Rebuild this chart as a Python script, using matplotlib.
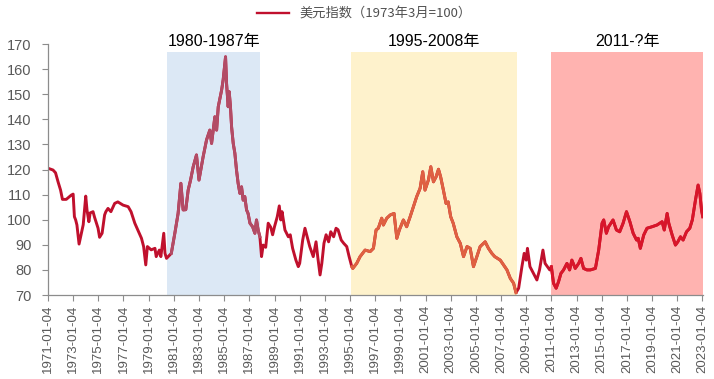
import numpy as np
import matplotlib
matplotlib.use('Agg')
import matplotlib.pyplot as plt
from matplotlib.lines import Line2D

plt.rcParams['font.family'] = ['Liberation Sans', 'Noto Sans CJK SC', 'DejaVu Sans']

# dollar index (decimal year, value)
years = [
    1971.0, 1971.4, 1971.6, 1971.8, 1972.0, 1972.15, 1972.45, 1972.85, 1973.0, 1973.1,
    1973.2, 1973.3, 1973.47, 1973.65, 1973.8, 1974.0, 1974.1, 1974.25, 1974.35, 1974.58,
    1974.7, 1974.98, 1975.1, 1975.3, 1975.5, 1975.6, 1975.77, 1976.0, 1976.3, 1976.55,
    1976.97, 1977.37, 1977.6, 1977.9, 1978.2, 1978.43, 1978.6, 1978.77, 1978.9, 1979.2,
    1979.5, 1979.6, 1979.85, 1979.97, 1980.2, 1980.3, 1980.42, 1980.8, 1981.08, 1981.34,
    1981.56, 1981.74, 1981.95, 1982.14, 1982.33, 1982.54, 1982.8, 1983.0, 1983.33, 1983.6,
    1983.86, 1984.0, 1984.26, 1984.4, 1984.53, 1984.8, 1984.92, 1985.11, 1985.19, 1985.32,
    1985.4, 1985.5, 1985.59, 1985.72, 1985.85, 1985.98, 1986.11, 1986.25, 1986.38, 1986.51,
    1986.64, 1986.78, 1986.9, 1987.05, 1987.26, 1987.44, 1987.57, 1987.7, 1987.84, 1987.97,
    1988.1, 1988.3, 1988.5, 1988.7, 1988.85, 1989.0, 1989.22, 1989.38, 1989.5, 1989.6,
    1989.83, 1990.1, 1990.25, 1990.44, 1990.7, 1990.89, 1991.0, 1991.24, 1991.42, 1991.6,
    1991.8, 1992.08, 1992.3, 1992.45, 1992.62, 1992.76, 1992.93, 1993.1, 1993.3, 1993.47,
    1993.7, 1993.89, 1994.05, 1994.3, 1994.5, 1994.74, 1994.93, 1995.14, 1995.22, 1995.53,
    1995.8, 1996.2, 1996.6, 1996.86, 1997.07, 1997.25, 1997.52, 1997.65, 1997.92, 1998.2,
    1998.5, 1998.72, 1998.92, 1999.24, 1999.5, 1999.78, 2000.04, 2000.3, 2000.57, 2000.78,
    2000.96, 2001.23, 2001.42, 2001.63, 2001.84, 2002.03, 2002.2, 2002.42, 2002.63, 2002.8,
    2003.0, 2003.2, 2003.49, 2003.76, 2004.02, 2004.3, 2004.55, 2004.81, 2005.08, 2005.34,
    2005.74, 2006.0, 2006.27, 2006.5, 2006.94, 2007.2, 2007.47, 2007.74, 2008.0, 2008.19,
    2008.4, 2008.66, 2008.84, 2009.0, 2009.1, 2009.3, 2009.58, 2009.85, 2010.06, 2010.33,
    2010.5, 2010.87, 2011.0, 2011.17, 2011.38, 2011.57, 2011.76, 2011.97, 2012.24, 2012.45,
    2012.63, 2012.9, 2013.17, 2013.35, 2013.56, 2013.83, 2014.1, 2014.5, 2014.76, 2015.03,
    2015.16, 2015.37, 2015.55, 2015.9, 2016.17, 2016.43, 2016.7, 2016.97, 2017.24, 2017.5,
    2017.77, 2017.9, 2018.07, 2018.34, 2018.6, 2019.0, 2019.4, 2019.8, 2019.97, 2020.2,
    2020.33, 2020.6, 2020.86, 2021.05, 2021.26, 2021.47, 2021.74, 2022.0, 2022.2, 2022.45,
    2022.66, 2022.8, 2022.93, 2023.03,
]
dxy = [
    120.5, 119.8, 118.7, 115.1, 111.8, 108.1, 108.1, 109.8, 110.2, 101.2,
    99.9, 97.9, 90.3, 94.6, 98.0, 109.4, 103.9, 99.2, 102.7, 103.2,
    101.0, 96.6, 93.0, 94.6, 101.9, 103.2, 104.5, 103.2, 106.5, 107.1,
    105.8, 105.2, 103.2, 98.6, 95.2, 92.6, 89.3, 82.0, 89.3, 88.0,
    88.6, 85.3, 87.9, 85.3, 94.6, 86.6, 84.6, 86.6, 94.6, 102.5,
    114.5, 103.9, 104.0, 111.8, 115.8, 121.1, 125.8, 115.8, 125.1, 131.8,
    135.7, 130.4, 141.0, 135.7, 145.0, 151.7, 155.7, 164.9, 154.3, 145.0,
    151.0, 145.0, 137.0, 130.4, 126.5, 119.8, 114.5, 110.5, 113.1, 107.8,
    109.2, 103.9, 102.5, 98.6, 97.2, 94.6, 99.9, 95.9, 93.2, 85.3,
    89.9, 89.0, 98.6, 97.0, 94.0, 97.2, 101.2, 105.5, 99.9, 103.2,
    95.9, 93.2, 94.0, 88.6, 83.9, 81.3, 82.6, 91.9, 96.6, 93.2,
    89.3, 85.3, 91.2, 84.6, 78.0, 82.6, 90.6, 94.0, 91.2, 95.2,
    93.2, 96.6, 96.0, 91.9, 90.6, 89.3, 85.3, 81.3, 80.6, 82.6,
    85.3, 87.9, 87.3, 88.6, 95.9, 96.6, 100.6, 97.9, 100.6, 101.9,
    102.5, 92.6, 95.9, 99.9, 97.2, 101.2, 105.2, 109.2, 112.5, 119.1,
    111.8, 115.8, 121.1, 115.1, 117.1, 120.1, 117.1, 111.8, 106.5, 107.1,
    101.2, 98.6, 93.2, 90.6, 85.3, 89.3, 88.6, 81.3, 85.3, 89.3,
    91.2, 88.6, 86.6, 85.3, 83.9, 82.0, 80.0, 76.6, 74.7, 70.9,
    72.7, 81.3, 86.6, 83.9, 88.6, 81.3, 78.6, 76.0, 80.0, 87.9,
    82.6, 80.0, 81.3, 74.7, 72.7, 75.3, 78.6, 80.0, 82.6, 80.0,
    83.9, 80.6, 82.6, 84.6, 80.6, 80.0, 80.0, 80.6, 87.9, 98.6,
    99.9, 94.6, 97.2, 99.9, 95.9, 95.2, 98.6, 103.2, 99.2, 94.6,
    91.9, 92.6, 88.6, 93.9, 96.6, 97.2, 97.9, 99.2, 95.9, 102.5,
    98.6, 93.9, 89.9, 91.2, 93.2, 91.9, 95.2, 96.6, 99.9, 107.8,
    113.8, 110.5, 103.9, 101.2,
]

# shaded periods
periods = [(1980.45, 1987.87), (1995.1, 2008.3), (2011.0, 2023.03)]
period_labels = ['1980-1987年', '1995-2008年', '2011-?年']
period_fill = ['#dce8f5', '#fef2cc', '#ffb3b0']
period_line = ['#b24c66', '#df6141', '#d8162a']

tick_years = list(range(1971, 2024, 2))
tick_labels = [f'{y}-01-04' for y in tick_years]

x = np.array(years)
y = np.array(dxy)

fig = plt.figure(figsize=(7.14, 3.79), dpi=100)
ax = fig.add_axes([0.0672, 0.2216, 0.9174, 0.6623])

for (a, b), fc, lab in zip(periods, period_fill, period_labels):
    ax.fill_between([a, b], 70, 167, color=fc, lw=0, zorder=1)
    ax.text((a + b) / 2, 168, lab, ha='center', va='bottom', fontsize=11.5,
            color='black', zorder=4)

ax.plot(x, y, color='#c0102d', lw=2.1, zorder=2)
for (a, b), lc in zip(periods, period_line):
    m = (x >= a) & (x <= b)
    ax.plot(x[m], y[m], color=lc, lw=2.1, zorder=3)

ax.set_xlim(1971.0, 2023.05)
ax.set_ylim(70, 170)
ax.set_yticks(range(70, 171, 10))
ax.set_xticks(tick_years)
ax.set_xticklabels(tick_labels, rotation=90)

for s in ['top', 'right']:
    ax.spines[s].set_visible(False)
for s in ['left', 'bottom']:
    ax.spines[s].set_color('#8c8c8c')
    ax.spines[s].set_linewidth(0.9)
ax.tick_params(axis='y', length=4, color='#8c8c8c', labelsize=10.5,
               labelcolor='#595959', pad=8)
ax.tick_params(axis='x', length=4, color='#8c8c8c', labelsize=9.5,
               labelcolor='#595959', pad=3)

handle = Line2D([], [], color='#c0102d', lw=1.7)
fig.legend([handle], ['美元指数（1973年3月=100）'], loc='upper center',
           bbox_to_anchor=(0.51, 1.01), frameon=False, handlelength=2.4,
           prop={'family': ['Noto Sans CJK SC', 'DejaVu Sans'], 'size': 9.5},
           labelcolor='#505050')

fig.savefig('out.png', dpi=100)
